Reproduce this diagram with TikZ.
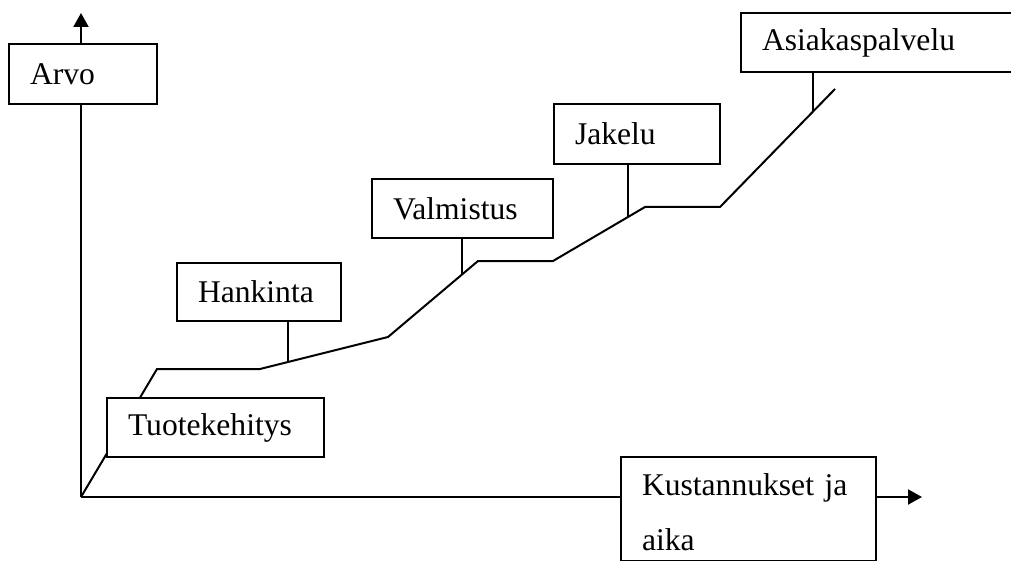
\documentclass[tikz,border=0pt]{standalone}
\usepackage{fontspec}
\setmainfont{Liberation Serif}
\usetikzlibrary{arrows.meta}

\begin{document}
\begin{tikzpicture}[x=0.5pt,y=-0.5pt,line width=1pt,
  stagebox/.style={draw,fill=white,anchor=north west,align=left,inner xsep=10.5pt,inner ysep=0pt,font=\fontsize{15.8}{27.5}\selectfont},
  axis/.style={-{Triangle[length=7pt,width=7.5pt]}}]
\useasboundingbox (0,0) rectangle (1011,561);
\coordinate (O) at (81,497);
\coordinate (ytip) at (81,13);
\coordinate (xtip) at (922,497);
\draw[axis] (O) -- (ytip);
\draw[axis] (O) -- (xtip);
% value chain
\foreach \n/\px/\py in {c1/157/369,c2/260/369,c3/388/337,c4/478/261,c5/553/261,c6/645/207,c7/720/207,c8/835/89}
  \coordinate (\n) at (\px,\py);
\draw (O) -- (c1) -- (c2) -- (c3) -- (c4) -- (c5) -- (c6) -- (c7) -- (c8);
\foreach \n/\px/\py in {t1/288/362,t2/462/275,t3/628/217,t4/813/111}
  \coordinate (\n) at (\px,\py);
% boxes
\foreach \name/\txt/\px/\py/\w/\h in {arvo/Arvo/8/43/53/30,tuote/Tuotekehitys/106/397/87.5/29.5,
  hank/Hankinta/176/262/61/29,valm/Valmistus/371/178/69.5/29.5,jak/Jakelu/553/103/62/30,
  asiak/Asiakaspalvelu/740/12/124/29.5}
  {\node[stagebox,text width=\w pt,minimum height=\h pt] (\name) at (\px,\py) {\txt};}
\node[stagebox,text width=106.5pt,minimum height=52pt] (kust) at (620,456)
  {\rule{0pt}{14.6pt}Kustannukset ja\\aika};
\draw (t1) -- (t1 |- hank.south);
\draw (t2) -- (t2 |- valm.south);
\draw (t3) -- (t3 |- jak.south);
\draw (t4) -- (t4 |- asiak.south);
\end{tikzpicture}
\end{document}
